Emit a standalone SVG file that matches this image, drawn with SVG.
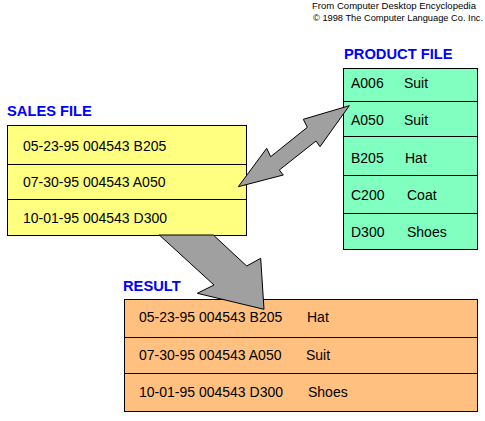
<svg xmlns="http://www.w3.org/2000/svg" width="485" height="421" viewBox="0 0 485 421">
<style>
text{font-family:"Liberation Sans",Arial,sans-serif;fill:#000}
.t{font-size:14px}
.h{font-size:14.7px;font-weight:bold;fill:#0000FF}
.c{font-size:8.5px}
.box{stroke:#000;stroke-width:1}
.arrow{fill:#A0A0A0;stroke:#000;stroke-width:1;stroke-linejoin:miter}
</style>
<rect width="485" height="421" fill="#fff"/>
<g id="credit">
<text class="c" x="312" y="9" textLength="164" lengthAdjust="spacingAndGlyphs">From Computer Desktop Encyclopedia</text>
<text class="c" x="313" y="21" textLength="170" lengthAdjust="spacingAndGlyphs">© 1998 The Computer Language Co. Inc.</text>
</g>
<g id="sales">
<text class="h" x="7" y="116">SALES FILE</text>
<rect class="box" x="7.5" y="125.5" width="239" height="110" fill="#FFFF80"/>
<line class="box" x1="7.5" y1="164.5" x2="246.5" y2="164.5"/>
<line class="box" x1="7.5" y1="199.5" x2="246.5" y2="199.5"/>
<text class="t" x="23" y="151">05-23-95 004543 B205</text>
<text class="t" x="23" y="187">07-30-95 004543 A050</text>
<text class="t" x="23" y="223">10-01-95 004543 D300</text>
</g>
<g id="product">
<text class="h" x="344" y="59">PRODUCT FILE</text>
<rect class="box" x="343.5" y="68.5" width="134" height="181" fill="#80FFC0"/>
<line class="box" x1="343.5" y1="101.5" x2="477.5" y2="101.5"/>
<line class="box" x1="343.5" y1="136.5" x2="477.5" y2="136.5"/>
<line class="box" x1="343.5" y1="175.5" x2="477.5" y2="175.5"/>
<line class="box" x1="343.5" y1="213.5" x2="477.5" y2="213.5"/>
<text class="t" x="351" y="88">A006</text><text class="t" x="404" y="88">Suit</text>
<text class="t" x="351" y="125">A050</text><text class="t" x="404" y="125">Suit</text>
<text class="t" x="351" y="163">B205</text><text class="t" x="405" y="163">Hat</text>
<text class="t" x="351" y="200">C200</text><text class="t" x="407" y="200">Coat</text>
<text class="t" x="351" y="237">D300</text><text class="t" x="407" y="237">Shoes</text>
</g>
<g id="result">
<text class="h" x="123" y="291">RESULT</text>
<rect class="box" x="124.5" y="299.5" width="353" height="112" fill="#FFC080"/>
<line class="box" x1="124.5" y1="337.5" x2="477.5" y2="337.5"/>
<line class="box" x1="124.5" y1="373.5" x2="477.5" y2="373.5"/>
<text class="t" x="139" y="322">05-23-95 004543 B205</text><text class="t" x="307" y="322">Hat</text>
<text class="t" x="139" y="360">07-30-95 004543 A050</text><text class="t" x="306" y="360">Suit</text>
<text class="t" x="139" y="397">10-01-95 004543 D300</text><text class="t" x="308" y="397">Shoes</text>
</g>
<g id="connectors">
<polygon class="arrow" points="238.3,186.7 266.7,148.3 270.7,156.7 307.3,127.3 303.3,119.3 349.3,105.7 320,146.7 316,141 279.3,170 283.3,175"/>
<polygon class="arrow" points="159.3,235 214,285 197.3,293.3 264,309.3 260.7,258.3 246.7,266 213.3,235"/>
</g>
</svg>
